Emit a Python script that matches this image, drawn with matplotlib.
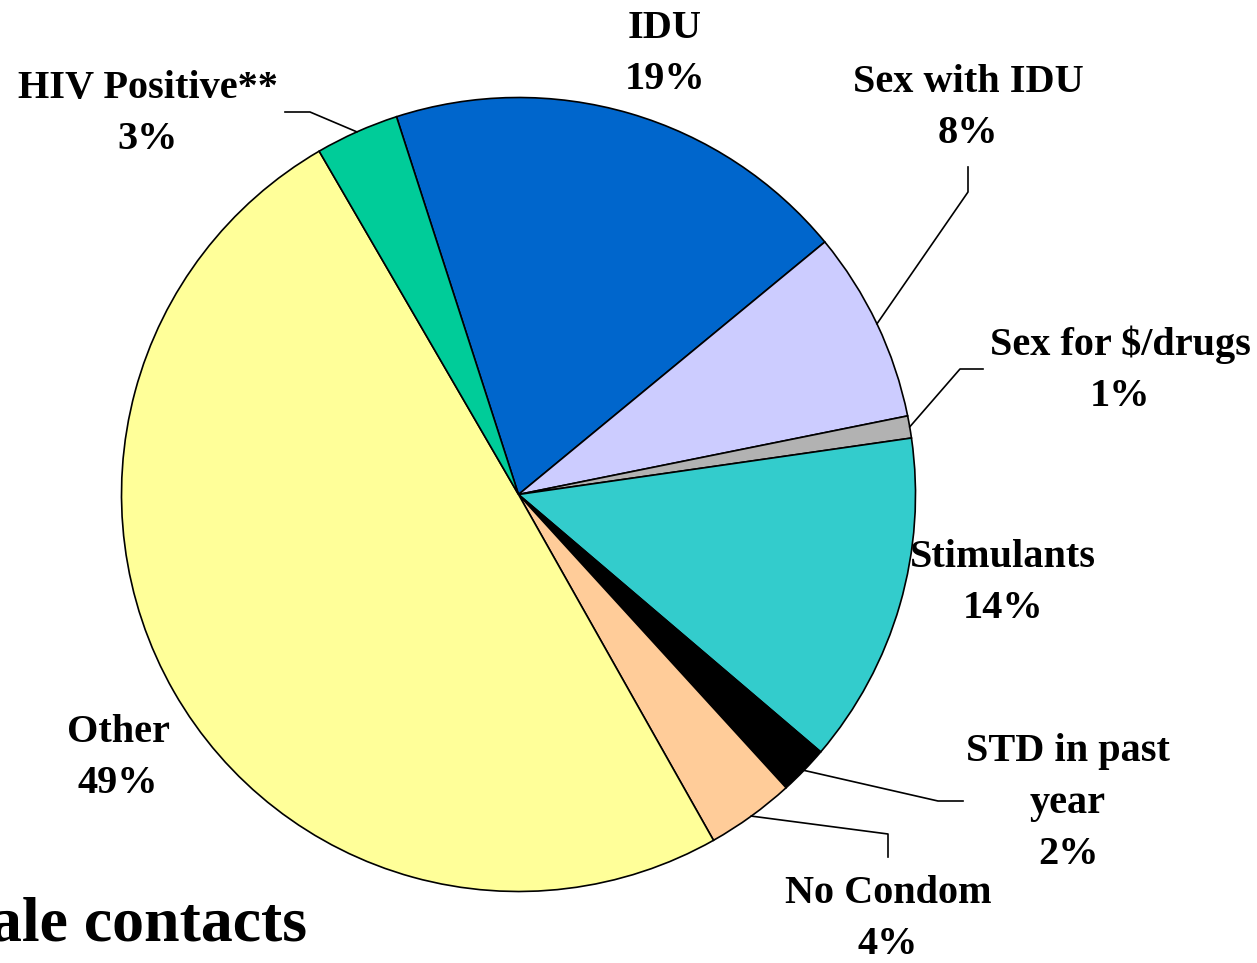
import numpy as np
import matplotlib
matplotlib.use("Agg")
import matplotlib.pyplot as plt

# slice data, clockwise from the top
labels = ['IDU', 'Sex with IDU', 'Sex for $/drugs', 'Stimulants',
          'STD in past\nyear', 'No Condom', 'Other', 'HIV Positive**']
values = [19.0, 7.8, 0.9, 13.5, 2.0, 3.6, 49.8, 3.4]
pct_labels = ['19%', '8%', '1%', '14%', '2%', '4%', '49%', '3%']
colors = ['#0066CC', '#CCCCFF', '#B2B2B2', '#33CCCC',
          '#000000', '#FFCC99', '#FFFF99', '#00CC99']

W, H = 1257, 963
plt.rcParams['font.family'] = ['Liberation Serif', 'DejaVu Serif']

fig = plt.figure(figsize=(W / 100, H / 100), dpi=100)
ax = fig.add_axes([0, 0, 1, 1])

cx, cy, r = 518.5, H - 494.5, 397
wedges, _ = ax.pie(values, colors=colors, startangle=107.9, counterclock=False,
                   center=(cx, cy), radius=r, frame=True,
                   wedgeprops=dict(edgecolor='black', linewidth=1.2))
ax.set_xlim(0, W)
ax.set_ylim(0, H)
ax.axis('off')

# label block centres (pixels from top-left)
label_pos = [(665, 54), (968, 108), (1120, 370), (1003, 583),
             (1068, 803), (888, 919), (118, 758), (148, 114)]
for lab, pct, (px, py) in zip(labels, pct_labels, label_pos):
    ax.text(px, H - py, lab + '\n' + pct, ha='center', va='center',
            fontsize=29, fontweight='bold', linespacing=1.5)

# leader lines: slice index -> knee and end points (pixels)
leaders = {
    7: [(310, 112), (285, 112)],
    1: [(968, 192), (968, 167)],
    2: [(960, 369), (983, 369)],
    4: [(938, 801), (963, 801)],
    5: [(888, 834), (888, 857)],
}
for i, pts in leaders.items():
    w = wedges[i]
    mid = np.deg2rad((w.theta1 + w.theta2) / 2)
    sx, sy = cx + r * np.cos(mid), cy + r * np.sin(mid)
    xs = [sx] + [p[0] for p in pts]
    ys = [sy] + [H - p[1] for p in pts]
    ax.plot(xs, ys, color='black', linewidth=1.2)

# clipped title at bottom left
ax.text(307, H - 940, 'ale contacts', ha='right', va='baseline',
        fontsize=46, fontweight='bold')

fig.savefig('out.png', dpi=100)
